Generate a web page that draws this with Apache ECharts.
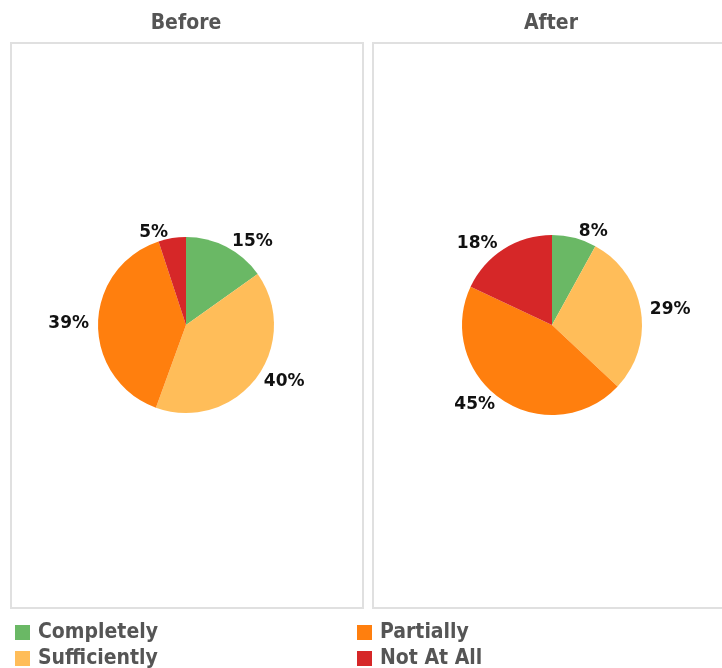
<!DOCTYPE html>
<html>
<head>
<meta charset="utf-8">
<script src="https://cdn.jsdelivr.net/npm/echarts@6/dist/echarts.min.js"></script>
<style>
  html, body { margin: 0; padding: 0; background: #fff; }
  #chart { width: 722px; height: 668px; }
</style>
</head>
<body>
<div id="chart"></div>
<script>
// Response categories, in slice order (clockwise from 12 o'clock)
const categories = ['Completely', 'Sufficiently', 'Partially', 'Not At All'];
const categoryColors = ['#6ab865', '#ffbd59', '#ff7f0e', '#d62728'];

// Share of respondents (%) before and after
const beforeValues = [15, 40, 39, 5];
const afterValues = [8, 29, 45, 18];

const panelTitles = ['Before', 'After'];

const condensed = '"DejaVu Sans Condensed", "DejaVu Sans", sans-serif';

function pieSeries(name, values, center, radius) {
  return {
    name: name,
    type: 'pie',
    center: center,
    radius: radius,
    startAngle: 90,
    clockwise: true,
    silent: true,
    label: {
      show: true,
      position: 'outside',
      formatter: '{c}%',
      color: '#111',
      fontFamily: '"DejaVu Sans", sans-serif',
      fontWeight: 'bold',
      fontSize: 17,
      distanceToLabelLine: 3
    },
    labelLine: { show: false, length: 6, length2: 0 },
    data: categories.map((c, i) => ({
      name: c,
      value: values[i],
      itemStyle: { color: categoryColors[i] }
    }))
  };
}

const chart = echarts.init(document.getElementById('chart'), null, { renderer: 'canvas' });

const legendText = {
  color: '#555', fontFamily: condensed, fontWeight: 'bold', fontSize: 21,
  padding: [0, 0, 0, 3]
};

function legendItem(name, left, top) {
  return {
    data: [name], left: left, top: top, orient: 'vertical', padding: 0,
    icon: 'rect', itemWidth: 15, itemHeight: 15, itemGap: 0,
    textStyle: legendText, selectedMode: false
  };
}

const titleText = { color: '#555', fontFamily: condensed, fontWeight: 'bold', fontSize: 21 };

chart.setOption({
  animation: false,
  backgroundColor: '#fff',
  title: [
    { text: panelTitles[0], left: 186, top: 13, textAlign: 'center', padding: 0, textStyle: titleText },
    { text: panelTitles[1], left: 551, top: 13, textAlign: 'center', padding: 0, textStyle: titleText }
  ],
  legend: [
    legendItem(categories[0], 15, 622),
    legendItem(categories[1], 15, 648),
    legendItem(categories[2], 357, 622),
    legendItem(categories[3], 357, 648)
  ],
  graphic: [
    { type: 'rect', silent: true, z: -1,
      shape: { x: 11, y: 43, width: 352, height: 565 },
      style: { fill: 'none', stroke: '#e0e0e0', lineWidth: 2 } },
    { type: 'rect', silent: true, z: -1,
      shape: { x: 373, y: 43, width: 360, height: 565 },
      style: { fill: 'none', stroke: '#e0e0e0', lineWidth: 2 } }
  ],
  series: [
    pieSeries(panelTitles[0], beforeValues, [186, 325], 88),
    pieSeries(panelTitles[1], afterValues, [552, 325], 90)
  ]
});
</script>
</body>
</html>
